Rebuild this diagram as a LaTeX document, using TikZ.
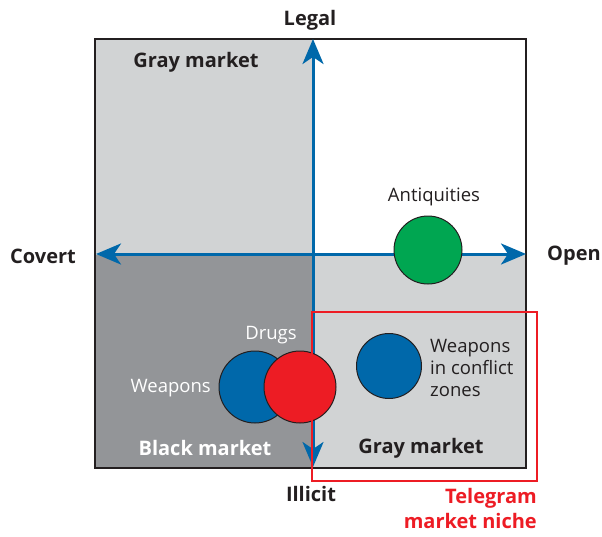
\documentclass[tikz,border=0pt]{standalone}
\usepackage{fontspec}
\setmainfont{Open Sans}
\usetikzlibrary{arrows.meta}
\definecolor{axisblue}{RGB}{0,104,170}
\definecolor{lgray}{RGB}{209,211,212}
\definecolor{dgray}{RGB}{147,149,152}
\definecolor{dotgreen}{RGB}{0,166,81}
\definecolor{dotred}{RGB}{237,28,36}
\definecolor{ink}{RGB}{35,31,32}
\tikzset{
  axis/.style={axisblue,line width=3pt,-{Stealth[length=25pt,width=21pt,inset=7pt]}},
  axislabel/.style={font=\fontsize{20}{24}\selectfont\bfseries,text=ink,inner sep=0pt},
  quadlabel/.style={font=\fontsize{20}{24}\selectfont\bfseries,inner sep=0pt},
  dot/.style={circle,draw=ink,line width=1pt,inner sep=0pt},
  itemlabel/.style={font=\fontsize{18.5}{22}\selectfont,inner sep=0pt},
}
\begin{document}
\begin{tikzpicture}[x=1pt,y=-1pt]
\useasboundingbox (0,0) rectangle (602,536);
% quadrants
\fill[lgray] (95,39) rectangle (313,255);
\fill[dgray] (95,255) rectangle (313,468);
\fill[lgray] (313,255) rectangle (526,468);
\draw[ink,line width=2pt] (95,39) rectangle (526,468);
% axis end points
\coordinate (top) at (313,39);
\coordinate (bot) at (313,467);
\coordinate (lft) at (96,254);
\coordinate (rgt) at (526,254);
\coordinate (ctr) at (313,254);
\draw[axis] (ctr) -- (top);
\draw[axis] (ctr) -- (bot);
\draw[axis] (ctr) -- (lft);
\draw[axis] (ctr) -- (rgt);
% axis labels
\node[axislabel] (legal) at (310,20) {Legal};
\node[axislabel] (covert) at (43,256) {Covert};
\node[axislabel] (open) at (574,256) {Open};
\node[axislabel] (illicit) at (311,494) {Illicit};
% quadrant labels
\node[quadlabel,text=ink] (gm1) at (196,62) {Gray market};
\node[quadlabel,text=white] (bm) at (205,448) {Black market};
\node[quadlabel,text=ink] (gm2) at (421,448) {Gray market};
% circles
\node[dot,fill=dotgreen,minimum size=68pt] (antiq) at (428,250) {};
\node[dot,fill=axisblue,minimum size=72pt] (weap) at (255,387) {};
\node[dot,fill=dotred,minimum size=72pt] (drugs) at (300,387) {};
\node[dot,fill=axisblue,minimum size=65pt] (wcz) at (389,366) {};
% item labels
\node[itemlabel,text=ink] (antiqlbl) at (434,197) {Antiquities};
\node[itemlabel,text=white] (druglbl) at (271,335) {Drugs};
\node[itemlabel,text=white,anchor=east] (weaplbl) at (211,388) {Weapons};
\node[itemlabel,text=ink,align=left,anchor=west] (wczlbl) at (430,368) {Weapons\\in conflict\\zones};
% telegram niche
\draw[dotred,line width=2pt] (312,312) rectangle (537,481);
\node[quadlabel,text=dotred,align=right,anchor=north east,font=\fontsize{20}{25}\selectfont\bfseries] (tg) at (537,488) {Telegram\\market niche};
\end{tikzpicture}
\end{document}
